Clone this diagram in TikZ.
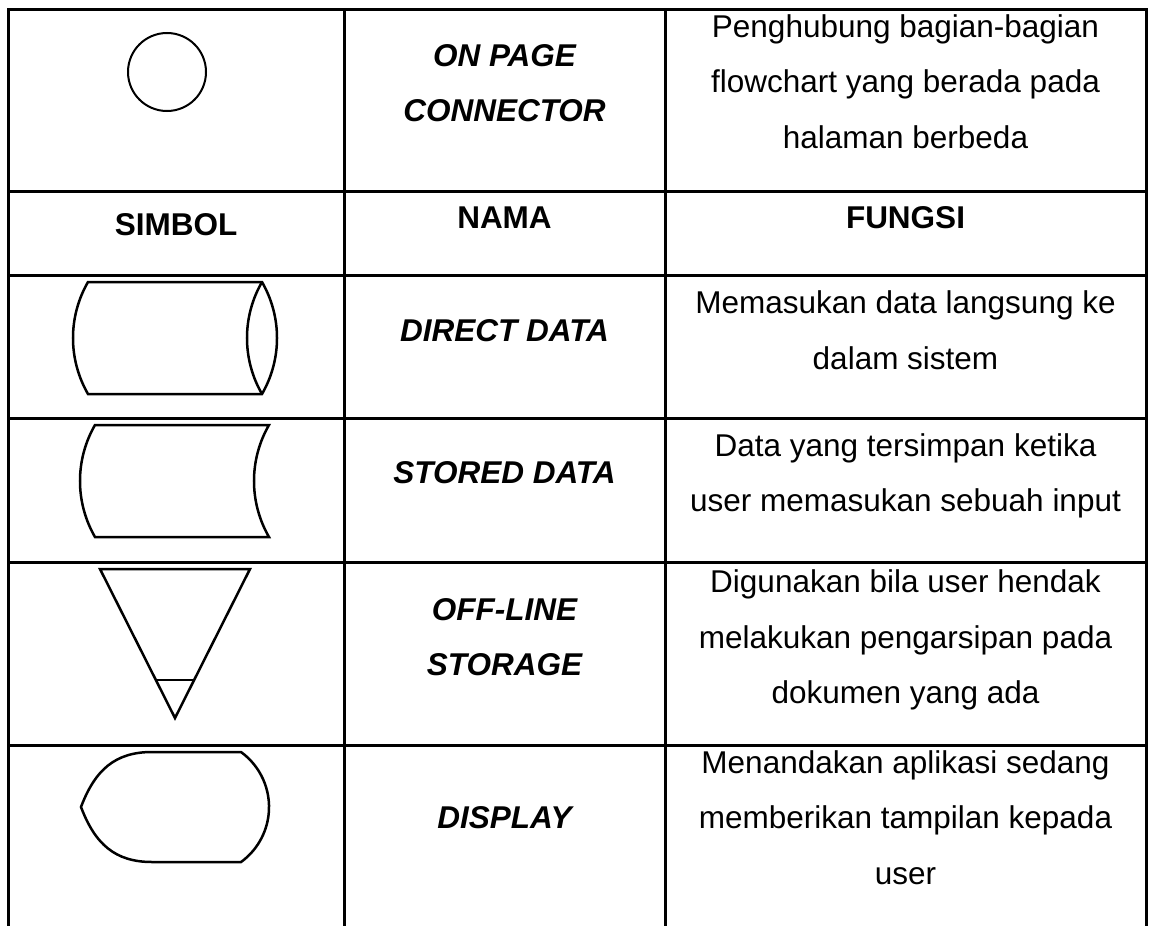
\documentclass[tikz,border=0pt]{standalone}
\usepackage{fontspec}
\setmainfont{Liberation Sans}
\usetikzlibrary{calc}
\begin{document}
\begin{tikzpicture}[x=1pt,y=1pt,
  gridline/.style={line width=3pt, line cap=rect, line join=miter},
  shp/.style={line width=2.5pt, line join=miter},
  txt/.style={inner sep=0pt, anchor=base, font=\fontsize{31.5}{40}\selectfont},
  hdr/.style={txt, font=\fontsize{31.5}{40}\selectfont\bfseries},
  nm/.style={txt, font=\fontsize{31.5}{40}\selectfont\bfseries\itshape}]
\useasboundingbox (0,0) rectangle (1149,-926);
% table grid
\coordinate (bl) at (8,-926);
\coordinate (tl) at (8,-9);
\coordinate (tr) at (1146,-9);
\coordinate (br) at (1146,-926);
\draw[gridline] (bl) -- (tl) -- (tr) -- (br);
\coordinate (c1t) at (344,-9);  \coordinate (c1b) at (344,-926);
\coordinate (c2t) at (665,-9);  \coordinate (c2b) at (665,-926);
\draw[gridline] (c1t) -- (c1b);
\draw[gridline] (c2t) -- (c2b);
\foreach \yy/\nn in {191/r1,275/r2,418/r3,562/r4,745/r5}{
  \coordinate (\nn l) at (8,-\yy);
  \coordinate (\nn r) at (1146,-\yy);
  \draw[gridline] (\nn l) -- (\nn r);
}
% row 1: on page connector
\node[circle, draw, line width=2pt, minimum size=78pt, inner sep=0pt] (conn) at (167,-72) {};
\node[nm] (n1a) at (504.5,-66) {ON PAGE};
\node[nm] (n1b) at (504.5,-121) {CONNECTOR};
\node[txt] (f1a) at (905.5,-37) {Penghubung bagian-bagian};
\node[txt] (f1b) at (905.5,-92) {flowchart yang berada pada};
\node[txt] (f1c) at (905.5,-148) {halaman berbeda};
% header
\node[hdr] (hs) at (176,-235) {SIMBOL};
\node[hdr] (hn) at (504.5,-228) {NAMA};
\node[hdr] (hf) at (905.5,-228) {FUNGSI};
% direct data
\draw[shp] (88,-282) -- (262,-282) arc[start angle=30,end angle=-30,radius=112]
  -- (88,-394) arc[start angle=210,end angle=150,radius=112] -- cycle;
\draw[shp] (262,-282) arc[start angle=150,end angle=210,radius=112];
\node[nm] (n3) at (504.5,-341) {DIRECT DATA};
\node[txt] (f3a) at (905.5,-313) {Memasukan data langsung ke};
\node[txt] (f3b) at (905.5,-369) {dalam sistem};
% stored data
\draw[shp] (95,-425) -- (269,-425) arc[start angle=150,end angle=210,radius=112]
  -- (95,-537) arc[start angle=210,end angle=150,radius=112] -- cycle;
\node[nm] (n4) at (504.5,-483) {STORED DATA};
\node[txt] (f4a) at (905.5,-456) {Data yang tersimpan ketika};
\node[txt] (f4b) at (905.5,-511) {user memasukan sebuah input};
% off-line storage
\coordinate (ta) at (100,-569);
\coordinate (tb) at (250,-569);
\coordinate (tc) at (175,-718);
\draw[shp] (ta) -- (tb) -- (tc) -- cycle;
\draw[shp] ($(ta)!0.745!(tc)$) -- ($(tb)!0.745!(tc)$);
\node[nm] (n5a) at (504.5,-620) {OFF-LINE};
\node[nm] (n5b) at (504.5,-675) {STORAGE};
\node[txt] (f5a) at (905.5,-592) {Digunakan bila user hendak};
\node[txt] (f5b) at (905.5,-648) {melakukan pengarsipan pada};
\node[txt] (f5c) at (905.5,-703) {dokumen yang ada};
% display
\draw[shp] (81,-807) .. controls (95,-770) and (115,-752) .. (152,-752) -- (241,-752)
  arc[start angle=54,end angle=-54,radius=68] -- (152,-862)
  .. controls (115,-862) and (95,-844) .. (81,-807) -- cycle;
\node[nm] (n6) at (504.5,-828) {DISPLAY};
\node[txt] (f6a) at (905.5,-773) {Menandakan aplikasi sedang};
\node[txt] (f6b) at (905.5,-828) {memberikan tampilan kepada};
\node[txt] (f6c) at (905.5,-884) {user};
\end{tikzpicture}
\end{document}
